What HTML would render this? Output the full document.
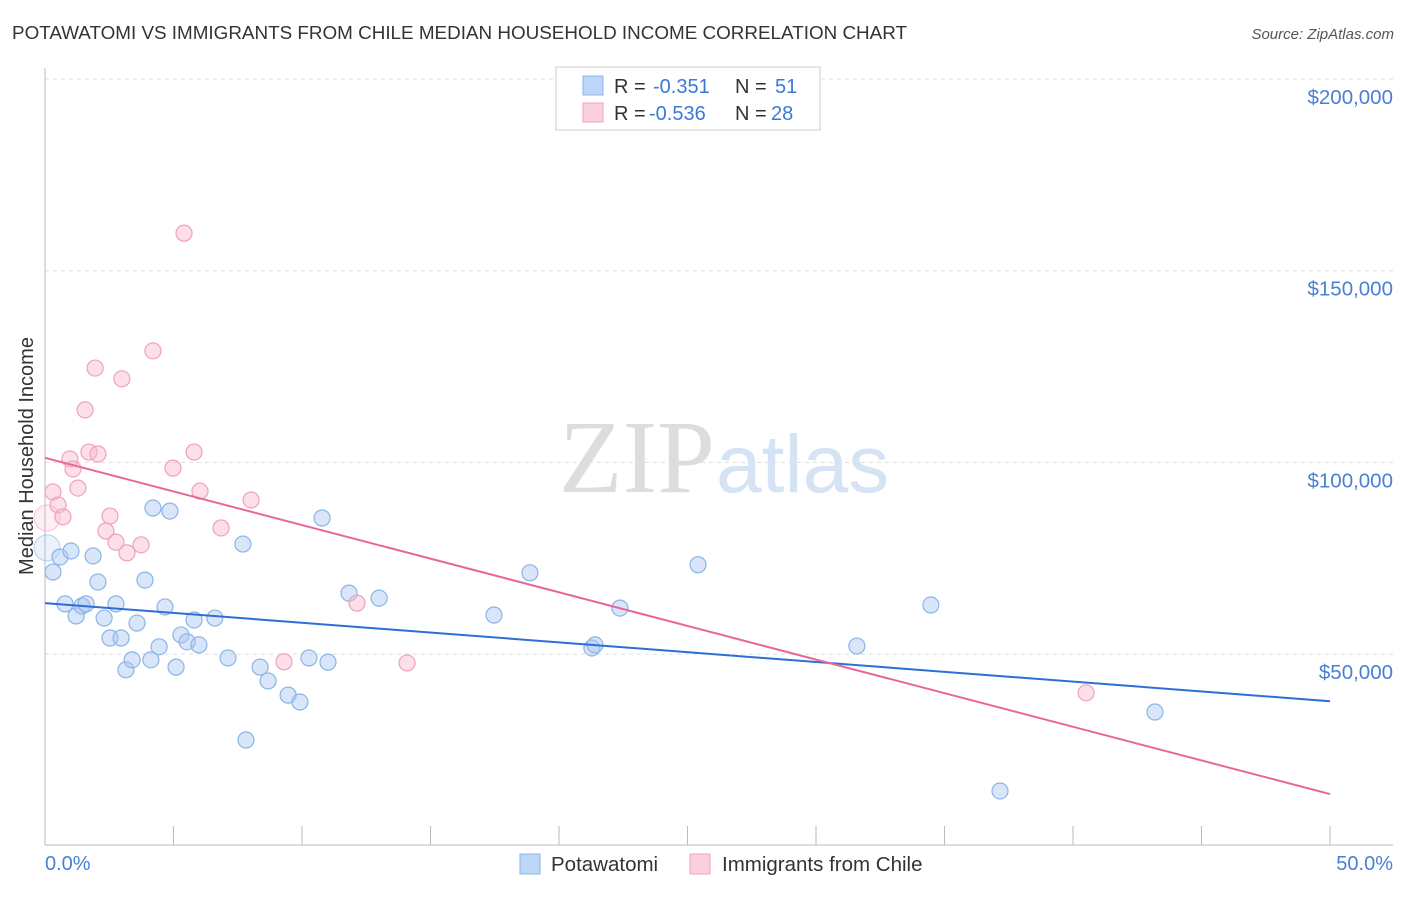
<!DOCTYPE html>
<html><head><meta charset="utf-8"><style>
body{margin:0;background:#fff;font-family:"Liberation Sans",sans-serif;}
</style></head><body>
<svg width="1406" height="892" xmlns="http://www.w3.org/2000/svg">
<text x="12" y="39" font-size="18" fill="#333" textLength="895" lengthAdjust="spacingAndGlyphs">POTAWATOMI VS IMMIGRANTS FROM CHILE MEDIAN HOUSEHOLD INCOME CORRELATION CHART</text>
<text x="1394" y="39" font-size="15" fill="#555" font-style="italic" text-anchor="end">Source: ZipAtlas.com</text>
<g id="grid"></g>
<text x="715" y="492" font-size="104" fill="#ddd" text-anchor="end" font-family="Liberation Serif,serif">ZIP</text>
<text x="716" y="492" font-size="82" fill="#d5e3f5">atlas</text>
<g id="marks"></g>
<text x="33" y="456" font-size="20" fill="#333" text-anchor="middle" transform="rotate(-90 33 456)">Median Household Income</text>
<text x="45" y="870" font-size="20" fill="#4a7fd4">0.0%</text>
<text x="1393" y="870" font-size="20" fill="#4a7fd4" text-anchor="end">50.0%</text>
<rect x="520" y="854" width="20" height="20" fill="#bcd6f7" stroke="#8ab4e8"/>
<text x="551" y="871" font-size="20.5" fill="#333">Potawatomi</text>
<rect x="690" y="854" width="20" height="20" fill="#fbd0dd" stroke="#f0a0bb"/>
<text x="722" y="871" font-size="20.5" fill="#333">Immigrants from Chile</text>
<g font-size="20">
<rect x="556" y="67" width="264" height="63" fill="#fff" stroke="#ccc"/>
<rect x="583" y="76" width="20" height="19" fill="#bcd6f7" stroke="#8ab4e8"/>
<rect x="583" y="103" width="20" height="19" fill="#fbd0dd" stroke="#f0a0bb"/>
<text x="614" y="93" fill="#333">R =</text><text x="653" y="93" fill="#3a78d8">-0.351</text>
<text x="735" y="93" fill="#333">N =</text><text x="775" y="93" fill="#3a78d8">51</text>
<text x="614" y="120" fill="#333">R =</text><text x="649" y="120" fill="#3a78d8">-0.536</text>
<text x="735" y="120" fill="#333">N =</text><text x="771" y="120" fill="#3a78d8">28</text>
</g>
</svg>
<script>
const yTicks=[50000,100000,150000,200000];
const yTickLabels=["$50,000","$100,000","$150,000","$200,000"];
const blueX=[0.08,0.31,0.58,0.78,1.01,1.21,1.44,1.60,1.87,2.06,2.30,2.53,2.76,2.96,3.15,3.39,3.58,3.89,4.12,4.20,4.44,4.67,4.86,5.10,5.29,5.53,5.80,5.99,6.61,7.12,7.70,7.82,8.37,8.68,9.46,9.92,10.27,10.78,11.01,11.83,13.00,17.47,18.87,21.28,21.40,22.37,25.41,31.59,34.47,37.16,43.19];
const blueY=[77700,71400,75300,63100,76900,59950,62550,63100,75600,68800,59400,54200,63100,54200,45900,48500,58100,69300,48500,88100,51900,62300,87300,46600,55000,53200,58900,52400,59400,49000,78700,27600,46600,43000,39300,37500,49000,85500,47900,65900,64600,60200,71200,51600,52400,62000,73300,52100,62800,14300,34900];
const pinkX=[0.08,0.31,0.51,0.70,0.97,1.09,1.28,1.56,1.71,1.95,2.06,2.37,2.53,2.76,2.99,3.19,3.74,4.20,4.98,5.41,5.80,6.03,6.85,8.02,9.30,12.14,14.09,40.51];
const pinkY=[85500,92300,88900,85800,100900,98300,93300,113700,102700,124600,102200,82100,86000,79200,121800,76400,78500,129100,98500,159800,102700,92500,82900,90200,48000,63300,47700,39900];
const blueTrend=[63300,37700];
const pinkTrend=[101200,13500];
const NS="http://www.w3.org/2000/svg";
const sx=p=>45+p/50*1285;
const sy=v=>79+(200000-v)/50000*191.7;
function mk(tag,attrs,parent){const e=document.createElementNS(NS,tag);for(const k in attrs)e.setAttribute(k,attrs[k]);parent.appendChild(e);return e;}
const grid=document.getElementById('grid'),marks=document.getElementById('marks');
yTicks.forEach((t,i)=>{
 const l=mk('line',{x1:45,x2:1393,y1:sy(t),y2:sy(t),stroke:'#ddd','stroke-dasharray':'4,4'},grid);
 
 
 const tx=mk('text',{x:1393,y:sy(t)+25,'font-size':20.5,fill:'#4a7fd4','text-anchor':'end'},grid);
 tx.textContent=yTickLabels[i];
 
 
});
let a=mk('line',{x1:45,x2:45,y1:68,y2:845,stroke:'#bbb'},grid);


a=mk('line',{x1:45,x2:1393,y1:845,y2:845,stroke:'#bbb'},grid);


for(let k=0;k<=10;k++){
 const t=mk('line',{x1:sx(k*5),x2:sx(k*5),y1:826,y2:845,stroke:'#bbb'},grid);
 
 
}
function dots(xs,ys,fill,stroke,name){
 xs.forEach((x,i)=>{
  const c=mk('circle',{cx:sx(x),cy:sy(ys[i]),r:i===0?13:8,fill:fill,stroke:stroke,'stroke-width':1.2,'fill-opacity':i===0?0.5:1,'stroke-opacity':i===0?0.5:1},marks);
  
  
 });
}
dots(blueX,blueY,'rgba(170,200,242,0.45)','#8ab4e8','potawatomi-point');
dots(pinkX,pinkY,'rgba(248,185,205,0.45)','#f0a0bb','chile-point');
let tl=mk('line',{x1:sx(0),x2:sx(50),y1:sy(blueTrend[0]),y2:sy(blueTrend[1]),stroke:'#2e6fd6','stroke-width':2},marks);


tl=mk('line',{x1:sx(0),x2:sx(50),y1:sy(pinkTrend[0]),y2:sy(pinkTrend[1]),stroke:'#e8679a','stroke-width':2},marks);


</script>
</body></html>
